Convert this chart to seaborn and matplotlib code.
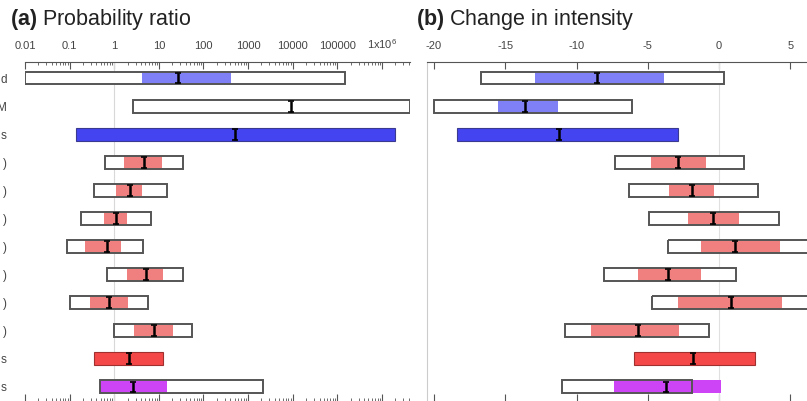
import seaborn as sns
import matplotlib.pyplot as plt
import numpy as np

# row labels (cut off at the left edge of the original figure)
rows = ['d', 'M', 's', ')', ')', ')', ')', ')', ')', ')', 's', 's']

# panel (a): probability ratio (log scale)
pr_lo = [0.01, 2.7, 0.14, 0.63, 0.35, 0.18, 0.087, 0.69, 0.10, 1.0, 0.35, 0.49]
pr_hi = [1.5e5, 4.2e6, 2.0e6, 34, 15, 6.8, 4.5, 35, 5.8, 56, 12.6, 2200]
pr_in_lo = [4.3, None, None, 1.66, 1.10, 0.60, 0.22, 1.95, 0.28, 2.8, None, 0.49]
pr_in_hi = [425, None, None, 11.5, 4.3, 1.95, 1.45, 12.6, 2.0, 21, None, 15.5]
pr_med = [27, 9000, 500, 4.7, 2.3, 1.1, 0.69, 5.2, 0.78, 7.6, 2.2, 2.7]

# panel (b): change in intensity
ci_lo = [-16.7, -20.0, -18.4, -7.3, -6.3, -4.9, -3.6, -8.1, -4.7, -10.8, -6.0, -11.0]
ci_hi = [0.35, -6.1, -2.9, 1.75, 2.7, 4.2, 7.5, 1.2, 7.5, -0.7, 2.5, -1.9]
ci_in_lo = [-12.9, -15.5, None, -4.8, -3.5, -2.2, -1.3, -5.7, -2.9, -9.0, None, -7.4]
ci_in_hi = [-3.9, -11.3, None, -0.9, -0.35, 1.4, 4.3, -1.3, 4.4, -2.8, None, 0.1]
ci_med = [-8.6, -13.6, -11.2, -2.9, -1.9, -0.4, 1.1, -3.6, 0.8, -5.7, -1.8, -3.7]

# fill colour of the inner (or solid) bar, and whether the bar is solid
fills = ['#8080f6', '#8080f6', '#4444f0'] + ['#f08080'] * 7 + ['#f44848', '#cc44f5']
solid = [False, False, True] + [False] * 7 + [True, False]

sns.set_theme(style='white')
plt.rcParams['font.family'] = ['Liberation Sans', 'DejaVu Sans']
plt.rcParams['mathtext.fontset'] = 'custom'
plt.rcParams['mathtext.rm'] = 'Liberation Sans'
plt.rcParams['mathtext.bf'] = 'Liberation Sans:bold'

W, H = 807, 401
fig = plt.figure(figsize=(W / 100, H / 100), dpi=100)

h = 0.46
y = np.arange(len(rows))


def draw_rows(ax, lo, hi, in_lo, in_hi, med):
    for i in range(len(rows)):
        if solid[i]:
            ax.barh(y[i], hi[i] - lo[i], left=lo[i], height=h, color=fills[i],
                    edgecolor='#3a3a90' if i == 2 else '#a03030', linewidth=0.8, zorder=2)
        else:
            ax.barh(y[i], hi[i] - lo[i], left=lo[i], height=h, color='white',
                    edgecolor='none', zorder=2)
            if in_lo[i] is not None:
                ax.barh(y[i], in_hi[i] - in_lo[i], left=in_lo[i], height=h,
                        color=fills[i], edgecolor='none', zorder=3)
            ax.barh(y[i], hi[i] - lo[i], left=lo[i], height=h, color='none',
                    edgecolor='#555555', linewidth=1.4, zorder=4)
    ax.errorbar(med, y, yerr=h * 0.42, fmt='none', ecolor='black',
                elinewidth=1.8, capsize=2.2, capthick=1.2, zorder=5)


y_top = -0.57
y_bot = 11.5

# ---- panel (a)
ax1 = fig.add_axes([25 / W, 0, (410 - 25) / W, (H - 62) / H])
ax1.set_xscale('log')
ax1.axvline(1, color='#d8d8d8', lw=0.8, zorder=1)
draw_rows(ax1, pr_lo, pr_hi, pr_in_lo, pr_in_hi, pr_med)
ax1.set_xlim(0.01, 10 ** 6.63)
ax1.set_ylim(y_bot, y_top)
ax1.xaxis.tick_top()
ticks = [10.0 ** k for k in range(-2, 7)]
ax1.set_xticks(ticks)
ax1.set_xticklabels(['0.01', '0.1', '1', '10', '100', '1000', '10000', '100000',
                     r'1x10$^6$'], fontsize=8)
ax1.tick_params(axis='x', which='both', top=True, bottom=True, direction='in',
                colors='#555555', labelcolor='#444444', pad=8)
ax1.tick_params(axis='x', which='major', length=5, width=0.8)
ax1.tick_params(axis='x', which='minor', length=2.5, width=0.6)
ax1.set_yticks(y)
ax1.set_yticklabels(rows, fontsize=8.5, color='#444444')
ax1.tick_params(axis='y', length=0, pad=13)
for s in ['left', 'right', 'bottom']:
    ax1.spines[s].set_visible(False)
ax1.spines['top'].set_color('#555555')
ax1.spines['top'].set_linewidth(0.8)
fig.text(10 / W, 1 - 19 / H, r'$\mathbf{(a)}$ Probability ratio', fontsize=15.5,
         va='center', ha='left', color='#222222')

# ---- panel (b)
ax2 = fig.add_axes([427 / W, 0, (W - 427) / W, (H - 62) / H])
ax2.axvline(0, color='#e0e0e0', lw=0.8, zorder=1)
draw_rows(ax2, ci_lo, ci_hi, ci_in_lo, ci_in_hi, ci_med)
ax2.set_xlim(-20.49, 6.16)
ax2.set_ylim(y_bot, y_top)
ax2.xaxis.tick_top()
ax2.set_xticks([-20, -15, -10, -5, 0, 5])
ax2.set_xticklabels(['-20', '-15', '-10', '-5', '0', '5'], fontsize=8)
ax2.tick_params(axis='x', which='both', top=True, bottom=True, direction='in',
                colors='#555555', labelcolor='#444444', length=5, width=0.8, pad=8)
ax2.set_yticks([])
for s in ['right', 'bottom']:
    ax2.spines[s].set_visible(False)
ax2.spines['left'].set_color('#cccccc')
ax2.spines['left'].set_linewidth(0.8)
ax2.spines['top'].set_color('#555555')
ax2.spines['top'].set_linewidth(0.8)
fig.text(416 / W, 1 - 19 / H, r'$\mathbf{(b)}$ Change in intensity', fontsize=15.5,
         va='center', ha='left', color='#222222')

fig.savefig('out.png', dpi=100)
